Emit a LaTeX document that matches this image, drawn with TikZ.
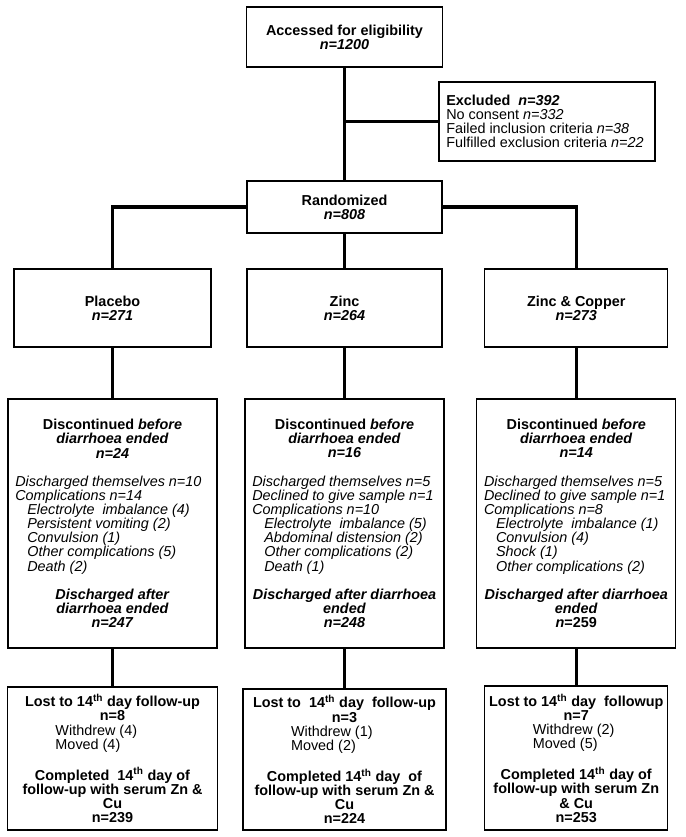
\documentclass[tikz,border=0pt]{standalone}
\usepackage{fontspec}
\setmainfont{Liberation Sans}
\usepackage{tikz}

% left aligned row inside a centred box, optional extra indent
\newcommand{\leftrow}[2][0pt]{\makebox[\hsize][l]{\hspace*{\dimexpr4.5pt+#1\relax}#2}}
\newcommand{\bi}[1]{\textbf{\textit{#1}}}

\begin{document}
\begin{tikzpicture}[x=0.75pt,y=-0.75pt]
  \tikzset{box/.style = {shape=rectangle,draw,line width=1.1pt,inner xsep=1pt,inner ysep=1pt,align=flush center,font=\fontsize{10.8}{10.6}\selectfont}}
  \tikzset{link/.style = {line width=2.5pt}}
  \useasboundingbox (0,0) rectangle (685,837);

	\node[box,minimum width=147pt,minimum height=45pt,text width=145pt] (acc) at (344.5,37) {\textbf{Accessed for eligibility}\\ \bi{n=1200}};
	\node[box,minimum width=162pt,minimum height=59.25pt,text width=160pt] (excl) at (547,121.5) {\leftrow{\textbf{Excluded\ \ \textit{n=392}}}\\
	  \leftrow{No consent \textit{n=332}}\\
	  \leftrow{Failed inclusion criteria \textit{n=38}}\\
	  \leftrow{Fulfilled exclusion criteria \textit{n=22}}};

	\node[box,minimum width=146.25pt,minimum height=39pt,text width=144.25pt] (rand) at (344.5,207) {\textbf{Randomized}\\ \bi{n=808}};

	% treatment arms
	\node[box,minimum width=147.75pt,minimum height=58.5pt,text width=145.75pt] (plac) at (112.5,308) {\textbf{Placebo}\\ \bi{n=271}};
	\node[box,minimum width=146.25pt,minimum height=58.5pt,text width=144.25pt] (zinc) at (344.5,308) {\textbf{Zinc}\\ \bi{n=264}};
	\node[box,minimum width=137.25pt,minimum height=58.5pt,text width=135.25pt] (zncu) at (576.25,308) {\textbf{Zinc \& Copper}\\ \bi{n=273}};

	\node[box,minimum width=156.75pt,minimum height=186.75pt,text width=154.75pt] (disc1) at (112.5,523.5) {\textbf{Discontinued \textit{before}}\\ \bi{diarrhoea ended}\\ \bi{n=24}\\[\baselineskip]
	  \leftrow{\textit{Discharged themselves n=10}}\\
	  \leftrow{\textit{Complications n=14}}\\
	  \leftrow[9pt]{\textit{Electrolyte\ \ imbalance (4)}}\\
	  \leftrow[9pt]{\textit{Persistent vomiting (2)}}\\
	  \leftrow[9pt]{\textit{Convulsion (1)}}\\
	  \leftrow[9pt]{\textit{Other complications (5)}}\\
	  \leftrow[9pt]{\textit{Death (2)}}\\[\baselineskip]
	  \bi{Discharged after}\\ \bi{diarrhoea ended}\\ \bi{n=247}};
	\node[box,minimum width=149.25pt,minimum height=186.75pt,text width=147.25pt] (disc2) at (344.5,523.5) {\textbf{Discontinued \textit{before}}\\ \bi{diarrhoea ended}\\ \bi{n=16}\\[\baselineskip]
	  \leftrow{\textit{Discharged themselves n=5}}\\
	  \leftrow{\textit{Declined to give sample n=1}}\\
	  \leftrow{\textit{Complications n=10}}\\
	  \leftrow[9pt]{\textit{Electrolyte\ \ imbalance (5)}}\\
	  \leftrow[9pt]{\textit{Abdominal distension (2)}}\\
	  \leftrow[9pt]{\textit{Other complications (2)}}\\
	  \leftrow[9pt]{\textit{Death (1)}}\\[\baselineskip]
	  \bi{Discharged after diarrhoea}\\ \bi{ended}\\ \bi{n=248}};
	\node[box,minimum width=149.25pt,minimum height=186.75pt,text width=147.25pt] (disc3) at (576.25,523.5) {\textbf{Discontinued \textit{before}}\\ \bi{diarrhoea ended}\\ \bi{n=14}\\[\baselineskip]
	  \leftrow{\textit{Discharged themselves n=5}}\\
	  \leftrow{\textit{Declined to give sample n=1}}\\
	  \leftrow{\textit{Complications n=8}}\\
	  \leftrow[9pt]{\textit{Electrolyte\ \ imbalance (1)}}\\
	  \leftrow[9pt]{\textit{Convulsion (4)}}\\
	  \leftrow[9pt]{\textit{Shock (1)}}\\
	  \leftrow[9pt]{\textit{Other complications (2)}}\\[\baselineskip]
	  \bi{Discharged after diarrhoea}\\ \bi{ended}\\ \textbf{\textit{n}=259}};

	% follow-up
	\node[box,minimum width=157.5pt,minimum height=107.25pt,text width=155.5pt] (lost1) at (112.5,758.5) {\textbf{Lost to 14\textsuperscript{th} day follow-up}\\ \textbf{n=8}\\
	  \leftrow[30.5pt]{Withdrew (4)}\\
	  \leftrow[30.5pt]{Moved (4)}\\[\baselineskip]
	  \textbf{Completed\ \ 14\textsuperscript{th} day of}\\ \textbf{follow-up with serum Zn \&}\\ \textbf{Cu}\\ \textbf{n=239}};
	\node[box,minimum width=152.25pt,minimum height=105.75pt,text width=150.25pt] (lost2) at (344.5,759.5) {\textbf{Lost to\ \ 14\textsuperscript{th} day\ \ follow-up}\\ \textbf{n=3}\\
	  \leftrow[30.5pt]{Withdrew (1)}\\
	  \leftrow[30.5pt]{Moved (2)}\\[\baselineskip]
	  \textbf{Completed 14\textsuperscript{th} day\ \ of}\\ \textbf{follow-up with serum Zn \&}\\ \textbf{Cu}\\ \textbf{n=224}};
	\node[box,minimum width=137.25pt,minimum height=108pt,text width=135.25pt] (lost3) at (576.25,758) {\textbf{Lost to 14\textsuperscript{th} day\ \ followup}\\ \textbf{n=7}\\
	  \leftrow[30.5pt]{Withdrew (2)}\\
	  \leftrow[30.5pt]{Moved (5)}\\[\baselineskip]
	  \textbf{Completed 14\textsuperscript{th} day of}\\ \textbf{follow-up with serum Zn}\\ \textbf{\& Cu}\\ \textbf{n=253}};

	\draw[link] (acc) -- (rand);
	\draw[link] (acc.south |- excl.west) -- (excl.west);
	\draw[link] (rand.west) -| (plac.north);
	\draw[link] (rand.east) -| (zncu.north);
    \foreach \from/\to in {rand/zinc,plac/disc1,zinc/disc2,zncu/disc3,disc1/lost1,disc2/lost2,disc3/lost3}
    \path[link](\from) edge (\to);
\end{tikzpicture}
\end{document}
